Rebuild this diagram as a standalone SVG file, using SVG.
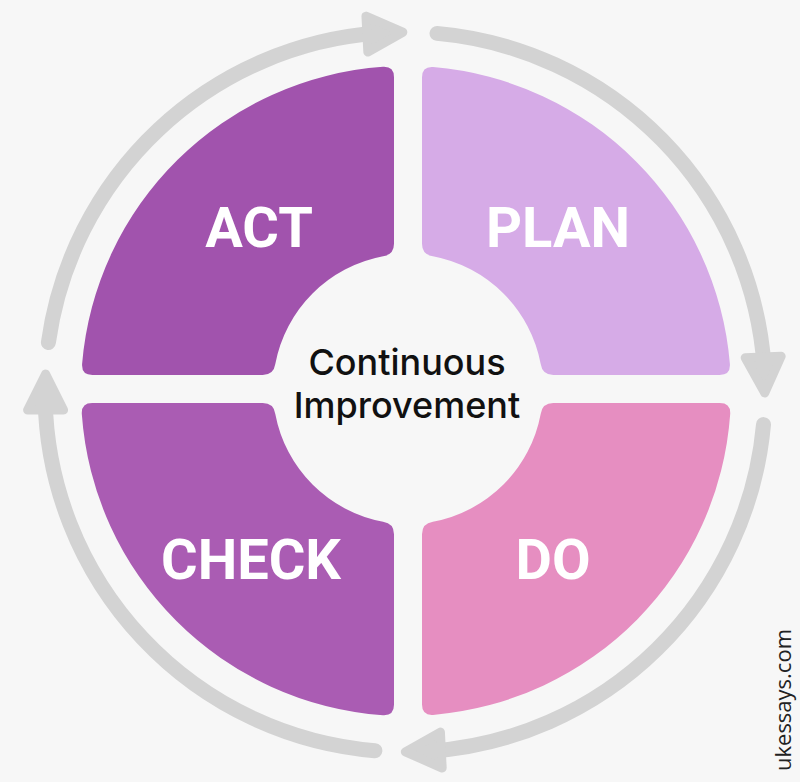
<svg xmlns="http://www.w3.org/2000/svg" width="800" height="782" viewBox="0 0 800 782">
<style>
.q{stroke:none}
.lbl{font-family:Roboto,"Liberation Sans",sans-serif;font-weight:700;font-size:56px;fill:#ffffff;text-anchor:middle}
.ctr{font-family:Inter,"Liberation Sans",sans-serif;font-weight:500;font-size:36px;fill:#111111;text-anchor:middle}
.shaft{fill:none;stroke:#d3d3d3;stroke-width:15;stroke-linecap:round}
.head{fill:#d3d3d3;stroke:#d3d3d3;stroke-width:9;stroke-linejoin:round}
.wm{font-family:"Open Sans","Liberation Sans",sans-serif;font-size:22px;fill:#222222;text-anchor:middle}
</style>
<defs>
<polygon id="ah" points="2,-18 38,0 2,18"/>
</defs>
<rect width="800" height="782" fill="#f7f7f7"/>
<g id="connectors">
<path class="shaft" d="M48.4,342.5 A360,360 0 0 1 377.4,33.1"/>
<use href="#ah" class="head" transform="translate(364.9,34.2) rotate(357)"/>
<path class="shaft" d="M437,33.4 A360,360 0 0 1 764.2,367.5"/>
<use href="#ah" class="head" transform="translate(763.1,355) rotate(87.45)"/>
<path class="shaft" d="M763.5,424.6 A360,360 0 0 1 430.7,751.1"/>
<use href="#ah" class="head" transform="translate(443.3,750) rotate(177.2)"/>
<path class="shaft" d="M374.9,750.7 A360,360 0 0 1 45.1,399.5"/>
<use href="#ah" class="head" transform="translate(45.6,412.1) rotate(270)"/>
</g>
<g id="act">
<path class="q" fill="#a153ad" d="M394,77.2 L394,243.7 Q394,254.7 383.1,256.3 A135,135 0 0 0 275.3,364.1 Q273.7,375 262.7,375 L92.4,375 Q81.4,375 82.1,364 A325,325 0 0 1 383,66.8 Q394,66.2 394,77.2 Z"/>
<text class="lbl" x="259" y="247">ACT</text>
</g>
<g id="plan">
<path class="q" fill="#d6abe7" d="M422,77.4 L422,243.7 Q422,254.7 432.9,256.3 A135,135 0 0 1 540.7,364.1 Q542.3,375 553.3,375 L719.6,375 Q730.6,375 729.9,364 A325,325 0 0 0 433,67.1 Q422,66.4 422,77.4 Z"/>
<text class="lbl" x="558" y="247">PLAN</text>
</g>
<g id="check">
<path class="q" fill="#aa5cb3" d="M92.2,403 L262.7,403 Q273.7,403 275.3,413.9 A135,135 0 0 0 383.1,521.7 Q394,523.3 394,534.3 L394,704.8 Q394,715.8 383,715.2 A325,325 0 0 1 81.8,414 Q81.2,403 92.2,403 Z"/>
<text class="lbl" x="251" y="579">CHECK</text>
</g>
<g id="do">
<path class="q" fill="#e68ec1" d="M553.3,403 L719.8,403 Q730.8,403 730.2,414 A325,325 0 0 1 433,714.9 Q422,715.6 422,704.6 L422,534.3 Q422,523.3 432.9,521.7 A135,135 0 0 0 540.7,413.9 Q542.3,403 553.3,403 Z"/>
<text class="lbl" x="553" y="579">DO</text>
</g>
<g id="center">
<text class="ctr" x="407" y="375">Continuous</text>
<text class="ctr" x="407" y="418">Improvement</text>
</g>
<text class="wm" transform="translate(791,700) rotate(-90)">ukessays.com</text>
</svg>
